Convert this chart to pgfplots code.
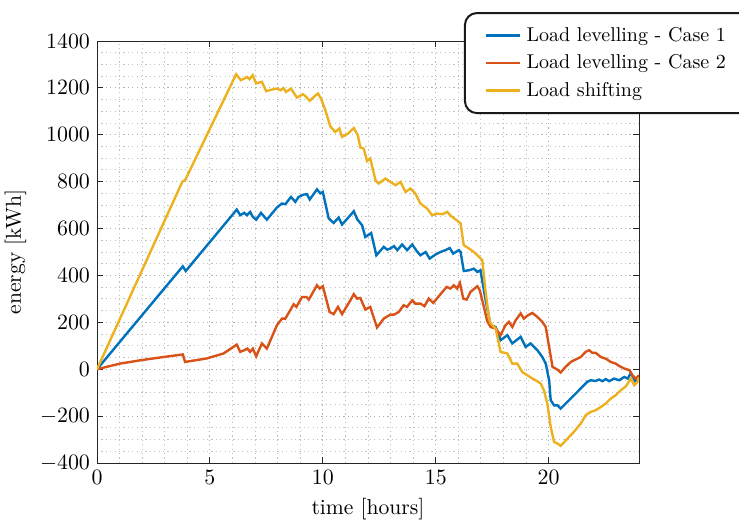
\documentclass[border=0pt]{standalone}
\usepackage{pgfplots}
\pgfplotsset{compat=1.18}

\definecolor{mblue}{rgb}{0,0.447,0.741}
\definecolor{mred}{rgb}{0.85,0.325,0.098}
\definecolor{myellow}{rgb}{0.929,0.694,0.125}

\begin{document}
\begin{tikzpicture}
\begin{axis}[
  scale only axis, width=271pt, height=211pt,
  at={(0,0)}, anchor=south west,
  xmin=0, xmax=24, ymin=-400, ymax=1400,
  xtick={0,5,10,15,20}, ytick={-400,-200,...,1400},
  minor x tick num=4, minor y tick num=3,
  grid=both,
  major grid style={dash pattern=on 0.6pt off 1.6pt, black!30, line width=0.5pt},
  minor grid style={dash pattern=on 0.6pt off 1.6pt, black!24, line width=0.45pt},
  tick align=inside, major tick length=3pt, minor tick length=0pt,
  axis line style={black!85, line width=0.5pt},
  every tick/.style={black!85, line width=0.5pt},
  tick label style={font=\fontsize{10.8}{13}\selectfont},
  label style={font=\fontsize{10.8}{13}\selectfont},
  xlabel={time [hours]}, ylabel={energy [kWh]},
  /pgf/number format/1000 sep={},
  legend style={at={(0.677,1.0687)}, anchor=north west,
    draw=black!90, line width=1pt, rounded corners=6pt,
    font=\fontsize{10}{12}\selectfont,
    inner xsep=10pt, inner ysep=5pt, row sep=1.2pt,
    nodes={inner xsep=2.6pt}},
  legend cell align=left,
]

% Load levelling - Case 1
\addplot[mblue, line width=1.2pt] coordinates {
(0,0) (3.80,439) (3.93,419) (6.19,681) (6.34,657) (6.52,667) (6.64,657)
(6.78,671) (6.90,650) (7.05,638) (7.26,667) (7.52,638) (7.97,690) (8.19,707)
(8.34,704) (8.59,735) (8.78,714) (8.93,735) (9.15,745) (9.30,746) (9.42,724)
(9.74,767) (9.89,750) (10.00,756) (10.26,643) (10.48,624) (10.70,647)
(10.85,617) (11.22,657) (11.37,674) (11.52,640) (11.74,614) (11.88,564)
(12.14,581) (12.37,486) (12.70,522) (12.85,510) (12.99,515) (13.15,525)
(13.30,508) (13.51,532) (13.73,508) (13.96,532) (14.15,505) (14.32,486)
(14.55,500) (14.73,472) (15.00,490) (15.21,500) (15.43,508) (15.62,517)
(15.77,493) (16.02,508) (16.10,500) (16.24,419) (16.47,422) (16.69,429)
(16.84,415) (16.98,422) (17.21,294) (17.43,188) (17.65,180) (17.87,124)
(18.17,145) (18.39,110) (18.76,138) (18.98,95) (19.20,110) (19.50,81)
(19.72,52) (19.87,24) (20.02,-47) (20.09,-132) (20.24,-154) (20.39,-154)
(20.53,-168) (20.83,-139) (21.12,-111) (21.42,-82) (21.71,-54) (21.86,-47)
(22.08,-50) (22.23,-44) (22.38,-51) (22.53,-42) (22.68,-51) (22.90,-40)
(23.12,-47) (23.35,-33) (23.50,-40) (23.64,-16) (23.83,-51) (24.00,-40)
};
\addlegendentry{Load levelling - Case 1}

% Load levelling - Case 2
\addplot[mred, line width=1.2pt] coordinates {
(0,0) (1.02,24) (1.91,38) (2.94,52) (3.80,63) (3.90,31) (4.86,46) (5.60,67)
(6.19,105) (6.34,74) (6.52,81) (6.66,88) (6.78,74) (6.90,88) (7.05,55)
(7.30,110) (7.52,88) (7.97,188) (8.19,216) (8.34,216) (8.71,277) (8.83,266)
(9.08,308) (9.28,308) (9.38,297) (9.74,358) (9.86,344) (10.00,354)
(10.30,244) (10.48,235) (10.67,266) (10.85,235) (11.22,294) (11.37,320)
(11.52,301) (11.66,304) (11.88,255) (12.10,266) (12.22,230) (12.40,178)
(12.70,216) (12.99,233) (13.15,233) (13.36,244) (13.58,273) (13.73,266)
(13.96,294) (14.10,280) (14.32,280) (14.50,269) (14.69,301) (14.89,283)
(15.21,320) (15.48,351) (15.65,344) (15.80,358) (15.95,344) (16.07,368)
(16.22,301) (16.37,297) (16.54,330) (16.84,354) (16.95,337) (17.13,266)
(17.28,205) (17.43,180) (17.65,174) (17.87,145) (18.09,188) (18.24,202)
(18.39,180) (18.54,209) (18.76,238) (18.90,216) (19.08,230) (19.28,240)
(19.50,223) (19.72,202) (19.87,180) (20.02,95) (20.17,10) (20.39,-2)
(20.53,-14) (20.75,10) (20.98,31) (21.12,38) (21.42,52) (21.64,74)
(21.79,81) (21.93,70) (22.08,70) (22.31,52) (22.53,45) (22.75,31)
(22.97,24) (23.12,14) (23.35,3) (23.57,-4) (23.71,-26) (23.86,-40) (24.00,-26)
};
\addlegendentry{Load levelling - Case 2}

% Load shifting
\addplot[myellow, line width=1.2pt] coordinates {
(0,0) (3.78,800) (3.90,806) (6.16,1258) (6.37,1233) (6.52,1240) (6.64,1247)
(6.75,1237) (6.89,1254) (7.05,1219) (7.30,1226) (7.49,1186) (7.75,1193)
(7.97,1197) (8.12,1190) (8.26,1199) (8.37,1183) (8.59,1197) (8.85,1159)
(9.12,1173) (9.22,1165) (9.42,1145) (9.64,1165) (9.79,1176) (9.93,1152)
(10.11,1105) (10.33,1036) (10.55,1012) (10.73,1027) (10.85,991) (11.11,1005)
(11.37,1029) (11.55,998) (11.66,946) (11.81,941) (11.96,888) (12.10,899)
(12.33,806) (12.47,792) (12.77,813) (12.99,799) (13.22,785) (13.44,799)
(13.66,756) (13.88,771) (14.10,749) (14.32,707) (14.62,685) (14.84,657)
(15.06,664) (15.29,661) (15.51,671) (15.68,653) (15.92,636) (16.10,622)
(16.24,529) (16.47,515) (16.69,500) (16.91,480) (17.06,465) (17.20,337)
(17.35,223) (17.43,195) (17.65,174) (17.87,74) (18.17,67) (18.39,24)
(18.61,24) (18.83,-12) (19.06,-26) (19.28,-40) (19.42,-47) (19.65,-61)
(19.79,-90) (19.94,-146) (20.09,-246) (20.24,-310) (20.39,-317) (20.53,-327)
(20.83,-296) (21.12,-267) (21.42,-232) (21.64,-196) (21.86,-182) (22.08,-175)
(22.31,-161) (22.53,-146) (22.75,-125) (22.97,-111) (23.19,-90) (23.42,-73)
(23.64,-40) (23.79,-68) (23.93,-54) (24.00,-35)
};
\addlegendentry{Load shifting}

\end{axis}
\pgfresetboundingbox
\path[use as bounding box]
  ([shift={(-48.5pt,-31pt)}]current axis.south west)
  rectangle ([shift={(321pt,231.5pt)}]current axis.south west);
\end{tikzpicture}
\end{document}
